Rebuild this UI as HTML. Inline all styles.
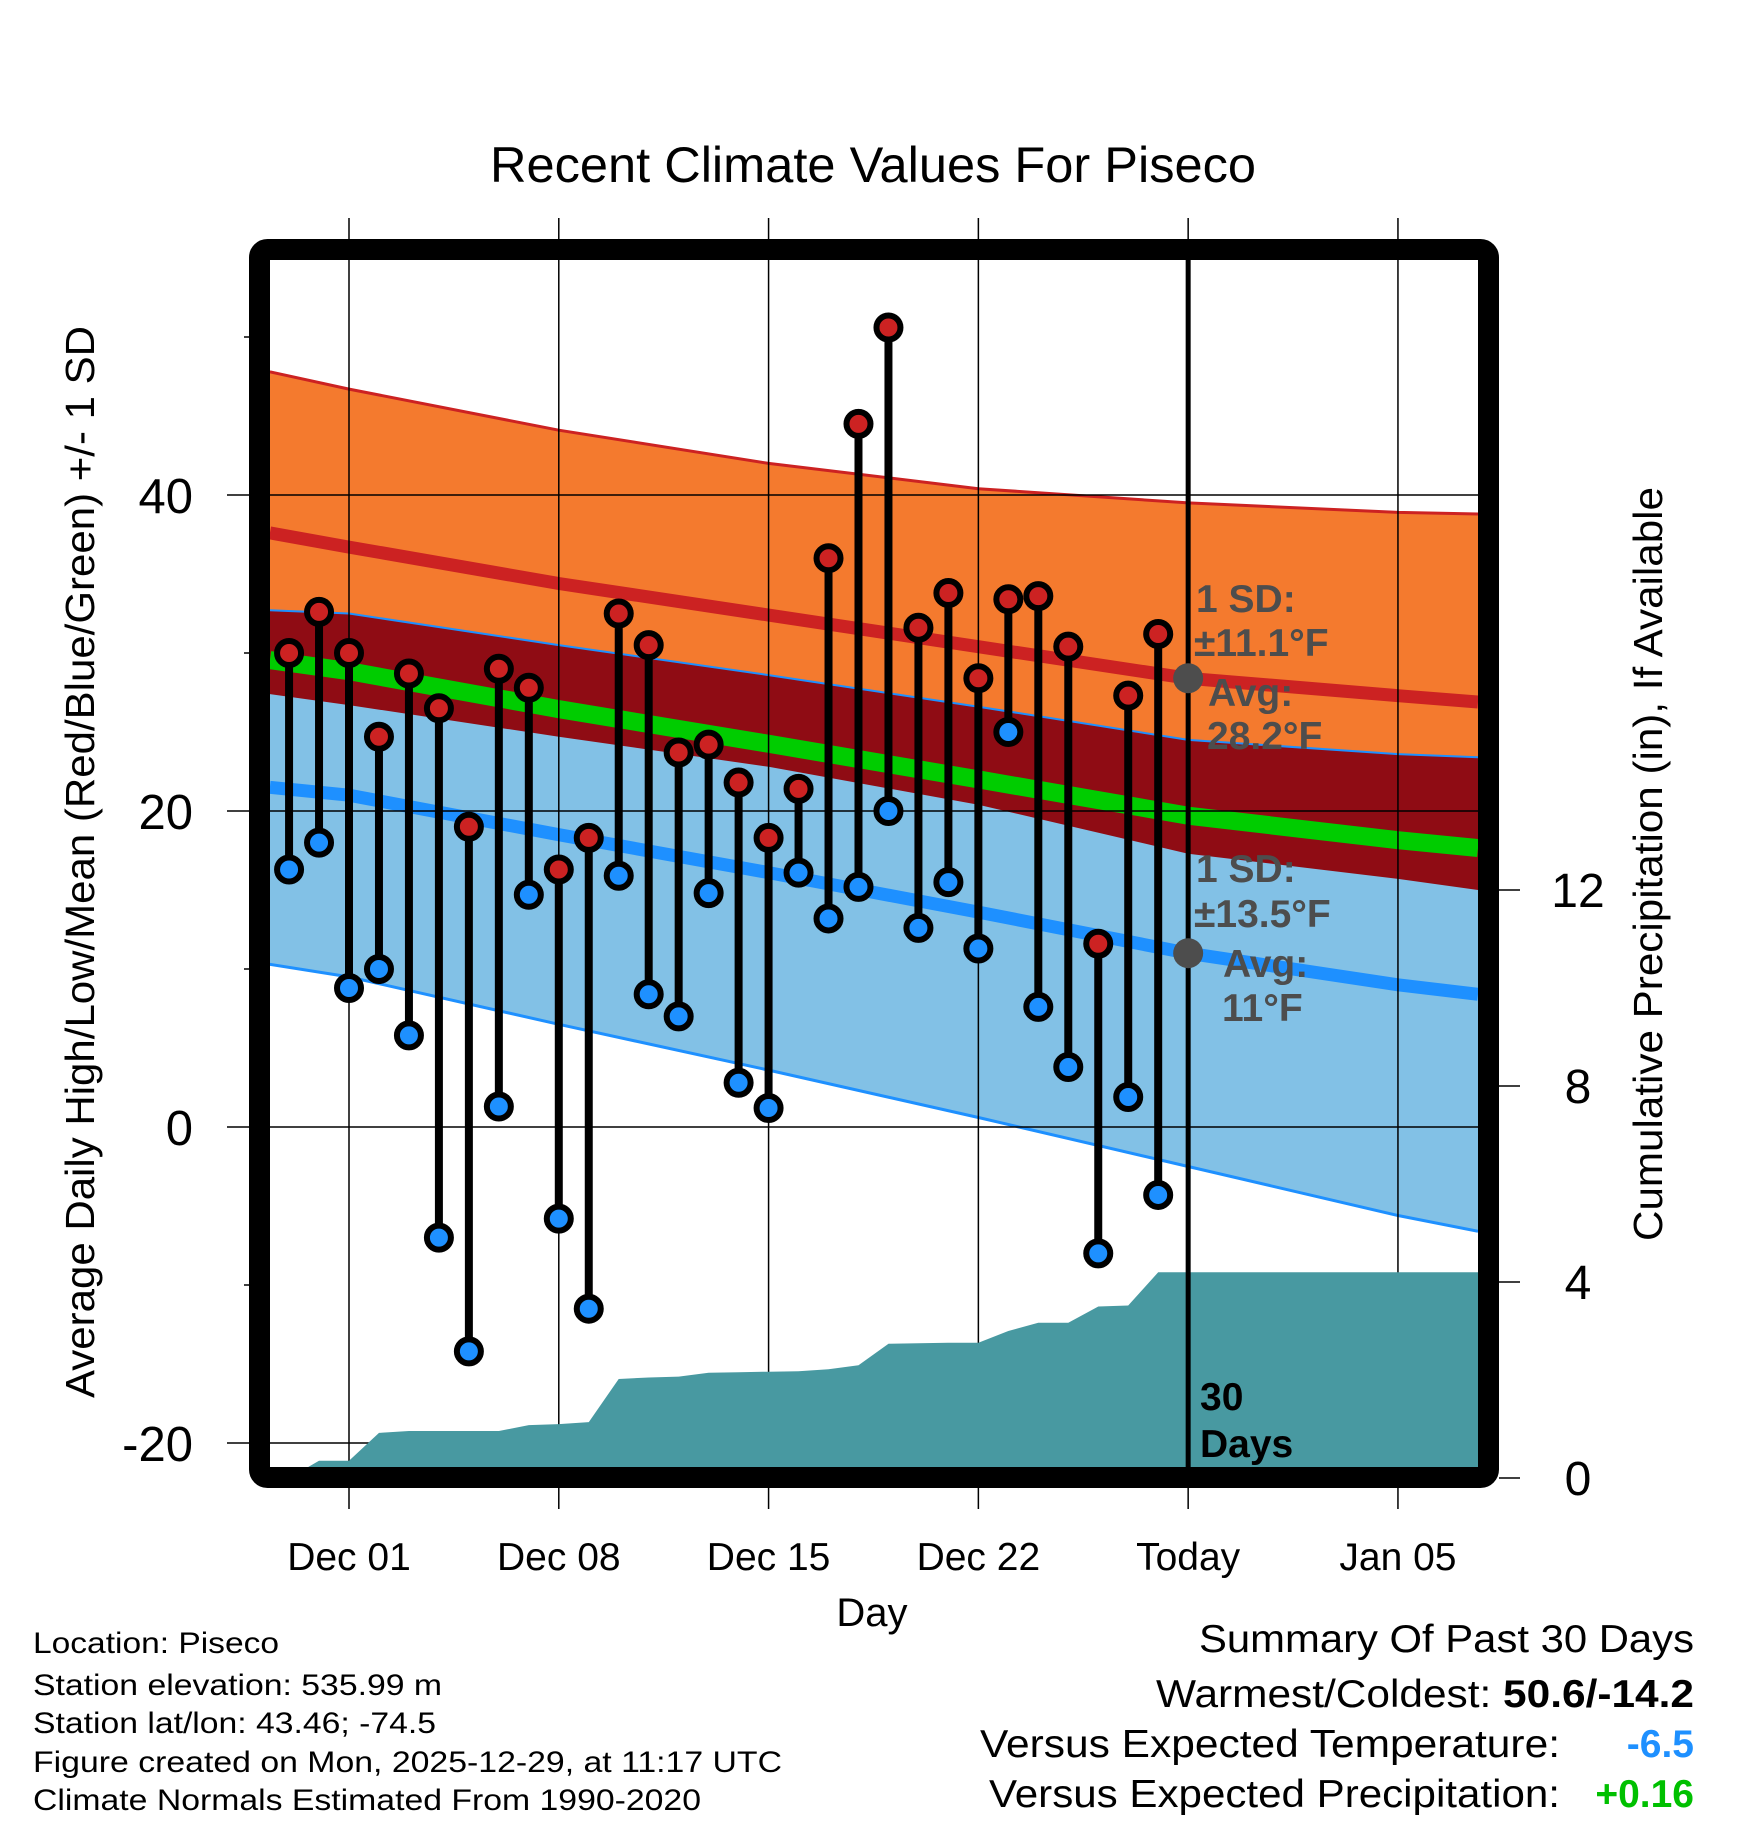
<!DOCTYPE html>
<html><head><meta charset="utf-8"><style>
html,body{margin:0;padding:0;background:#fff;}
svg{display:block;font-family:"Liberation Sans",Arial,sans-serif;}
</style></head><body>
<svg id="chart" width="1748" height="1828" viewBox="0 0 1748 1828" xmlns="http://www.w3.org/2000/svg">
<defs><clipPath id="plotclip"><rect x="270" y="260" width="1208" height="1208"/></clipPath></defs>
<rect width="1748" height="1828" fill="#fff"/>
<g id="bands" clip-path="url(#plotclip)"></g>
<g id="grid"></g>
<g id="precip" clip-path="url(#plotclip)"></g>
<g id="lollis"></g>
<g id="annot"></g>
<g id="axes"></g>
<text x="873" y="182" font-size="50" text-anchor="middle" textLength="766" lengthAdjust="spacingAndGlyphs">Recent Climate Values For Piseco</text>
<text transform="translate(94,862) rotate(-90)" font-size="41" text-anchor="middle" textLength="1072" lengthAdjust="spacingAndGlyphs">Average Daily High/Low/Mean (Red/Blue/Green) +/- 1 SD</text>
<text transform="translate(1662,864) rotate(-90)" font-size="41" text-anchor="middle" textLength="754" lengthAdjust="spacingAndGlyphs">Cumulative Precipitation (in), If Available</text>
<text x="872" y="1626" font-size="40" text-anchor="middle">Day</text>
<g font-size="30">
<text x="33" y="1653" textLength="246" lengthAdjust="spacingAndGlyphs">Location: Piseco</text>
<text x="33" y="1695" textLength="409" lengthAdjust="spacingAndGlyphs">Station elevation: 535.99 m</text>
<text x="33" y="1733" textLength="403" lengthAdjust="spacingAndGlyphs">Station lat/lon: 43.46; -74.5</text>
<text x="33" y="1772" textLength="749" lengthAdjust="spacingAndGlyphs">Figure created on Mon, 2025-12-29, at 11:17 UTC</text>
<text x="33" y="1810" textLength="668" lengthAdjust="spacingAndGlyphs">Climate Normals Estimated From 1990-2020</text>
</g>
<g font-size="39">
<text x="1694" y="1652" text-anchor="end" textLength="495" lengthAdjust="spacingAndGlyphs">Summary Of Past 30 Days</text>
<text x="1156" y="1707" textLength="538" lengthAdjust="spacingAndGlyphs"><tspan>Warmest/Coldest: </tspan><tspan font-weight="bold">50.6/-14.2</tspan></text>
<text x="980" y="1757" textLength="580" lengthAdjust="spacingAndGlyphs">Versus Expected Temperature:</text>
<text x="1694" y="1757" text-anchor="end" font-weight="bold" fill="#1e90ff">-6.5</text>
<text x="989" y="1807" textLength="571" lengthAdjust="spacingAndGlyphs">Versus Expected Precipitation:</text>
<text x="1694" y="1807" text-anchor="end" font-weight="bold" fill="#00c000">+0.16</text>
</g>
<script>
// ---- data ----
const normDays = [-2.64, 0, 7, 14, 21, 28, 35, 37.67];
const highMean = [37.6, 36.7, 34.4, 32.4, 30.4, 28.4, 27.3, 26.9];
const highSD = [10.2, 10.0, 9.7, 9.6, 10.0, 11.1, 11.6, 11.9];
const lowMean = [21.5, 21.0, 18.5, 16.1, 13.6, 11.0, 9.0, 8.4];
const lowSD = [11.2, 11.5, 12.0, 12.5, 13.0, 13.5, 14.6, 15.0];
const obsDays = [-2,-1,0,1,2,3,4,5,6,7,8,9,10,11,12,13,14,15,16,17,18,19,20,21,22,23,24,25,26,27];
const highs = [30,32.6,30,24.7,28.7,26.5,19,29,27.8,16.3,18.3,32.5,30.5,23.7,24.2,21.8,18.3,21.4,36,44.5,50.6,31.6,33.8,28.4,33.4,33.6,30.4,11.6,27.3,31.2];
const lows = [16.3,18,8.8,10,5.8,-7,-14.2,1.3,14.7,-5.8,-11.5,15.9,8.4,7,14.8,2.8,1.2,16.1,13.2,15.2,20,12.6,15.5,11.3,25,7.6,3.8,-8,1.9,-4.3];
const precip = [0,0.35,0.35,0.92,0.96,0.96,0.96,0.96,1.08,1.10,1.14,2.02,2.05,2.07,2.15,2.16,2.17,2.18,2.22,2.30,2.74,2.75,2.76,2.76,3.0,3.17,3.17,3.5,3.52,4.2];
const xTickDays = [0,7,14,21,28,35];
const xTickLabels = ["Dec 01","Dec 08","Dec 15","Dec 22","Today","Jan 05"];
const yTicks = [-20,0,20,40];
const yMinor = [-10,10,30,50];
const y2Ticks = [0,4,8,12];
const todayDay = 28;
// ---- scales ----
const X = d => 349 + d*29.97;
const Y = t => 1127 - t*15.8;
const Y2 = p => 1478 - p*49;
const NS = "http://www.w3.org/2000/svg";
function mk(tag, parent, attrs){const e=document.createElementNS(NS,tag);for(const k in attrs)e.setAttribute(k,attrs[k]);parent.appendChild(e);return e;}
const pts = arr => normDays.map((d,i)=>X(d).toFixed(1)+","+Y(arr[i]).toFixed(1));
const hU = highMean.map((m,i)=>m+highSD[i]), hL = highMean.map((m,i)=>m-highSD[i]);
const lU = lowMean.map((m,i)=>m+lowSD[i]), lL = lowMean.map((m,i)=>m-lowSD[i]);
const mean = highMean.map((m,i)=>(m+lowMean[i])/2);
const bands = document.getElementById('bands');
function band(a,b,fill,name){const p=mk('polygon',bands,{points:pts(a).concat(pts(b).reverse()).join(' '),fill:fill});

}
band(hU,hL,'#f47a2e','high-sd-band');
band(lU,lL,'#82c1e6','low-sd-band');
band(lU,hL,'#8f0c14','overlap-band');
function line(a,col,w,name){const p=mk('polyline',bands,{points:pts(a).join(' '),fill:'none',stroke:col,'stroke-width':w});

}
line(hU,'#cc2222',3,'high-plus-sd-line');
line(lU,'#1e90ff',2,'low-plus-sd-line');
line(lL,'#1e90ff',3,'low-minus-sd-line');
line(highMean,'#cc2222',13,'normal-high-line');
line(mean,'#00cc00',18,'normal-mean-line');
line(lowMean,'#1e90ff',13,'normal-low-line');
// grid
const grid = document.getElementById('grid');
xTickDays.forEach(d=>{const l=mk('line',grid,{x1:X(d),x2:X(d),y1:218,y2:1509,stroke:'#000','stroke-width':1.5});

});
yTicks.forEach(t=>{const l=mk('line',grid,{x1:227,x2:1478,y1:Y(t),y2:Y(t),stroke:'#000','stroke-width':1.5});

});
// precip
const pg = document.getElementById('precip');
let pp = [X(obsDays[0])+","+Y2(0)];
obsDays.forEach((d,i)=>pp.push(X(d).toFixed(1)+","+Y2(precip[i]).toFixed(1)));
pp.push("1490,"+Y2(precip[precip.length-1]).toFixed(1)); pp.push("1490,1480");
const pa = mk('polygon',pg,{points:pp.join(' '),fill:'#4899a1'});


// today line
const tl = mk('line',pg,{x1:X(todayDay),x2:X(todayDay),y1:260,y2:1468,stroke:'#000','stroke-width':5});


// lollipops
const lg = document.getElementById('lollis');
obsDays.forEach((d,i)=>{
 const g = mk('g',lg,{});
 
 
 mk('line',g,{x1:X(d),x2:X(d),y1:Y(highs[i]),y2:Y(lows[i]),stroke:'#000','stroke-width':8});
 const c1=mk('circle',g,{cx:X(d),cy:Y(highs[i]),r:12,fill:'#cc2222',stroke:'#000','stroke-width':6});
 
 
 const c2=mk('circle',g,{cx:X(d),cy:Y(lows[i]),r:12,fill:'#1e90ff',stroke:'#000','stroke-width':6});
 
 
});
// annotations
const an = document.getElementById('annot');
const iT = normDays.indexOf(28);
const c3=mk('circle',an,{cx:X(todayDay),cy:Y(highMean[iT]),r:15,fill:'#4d4d4d'});


const c4=mk('circle',an,{cx:X(todayDay),cy:Y(lowMean[iT]),r:15,fill:'#4d4d4d'});


function txt(parent,x,y,s,attrs,name){const t=mk('text',parent,Object.assign({x:x,y:y},attrs));t.textContent=s;

return t;}
const ga={'font-size':39,'font-weight':'bold',fill:'#4d4d4d'};
txt(an,1196,612,"1 SD:",ga,'high-sd-label');
txt(an,1194,656,"±11.1°F",ga,'high-sd-value');
txt(an,1208,706,"Avg:",ga,'high-avg-label');
txt(an,1207,749,"28.2°F",ga,'high-avg-value');
txt(an,1196,882,"1 SD:",ga,'low-sd-label');
txt(an,1194,927,"±13.5°F",ga,'low-sd-value');
txt(an,1223,977,"Avg:",ga,'low-avg-label');
txt(an,1222,1021,"11°F",ga,'low-avg-value');
const da={'font-size':39,'font-weight':'bold',fill:'#000'};
txt(an,1200,1410,"30",da,'days-label');
txt(an,1200,1457,"Days",da,'days-label-2');
// axes
const ax = document.getElementById('axes');
const fr = mk('rect',ax,{x:259.5,y:249.5,width:1229,height:1228,rx:8,fill:'none',stroke:'#000','stroke-width':21});


yTicks.forEach(t=>{txt(ax,193,Y(t)+18,String(t),{'font-size':49,'text-anchor':'end'},'y-tick-label');});
yMinor.forEach(t=>{mk('line',ax,{x1:244,x2:250,y1:Y(t),y2:Y(t),stroke:'#000','stroke-width':1.5});});
y2Ticks.forEach(p=>{mk('line',ax,{x1:1499,x2:1520,y1:Y2(p),y2:Y2(p),stroke:'#000','stroke-width':1.5});
 txt(ax,1578,Y2(p)+17,String(p),{'font-size':48,'text-anchor':'middle'},'y2-tick-label');});
xTickDays.forEach((d,i)=>{txt(ax,X(d),1570,xTickLabels[i],{'font-size':39,'text-anchor':'middle'},'x-tick-label');});
</script>
</svg>
</body></html>
